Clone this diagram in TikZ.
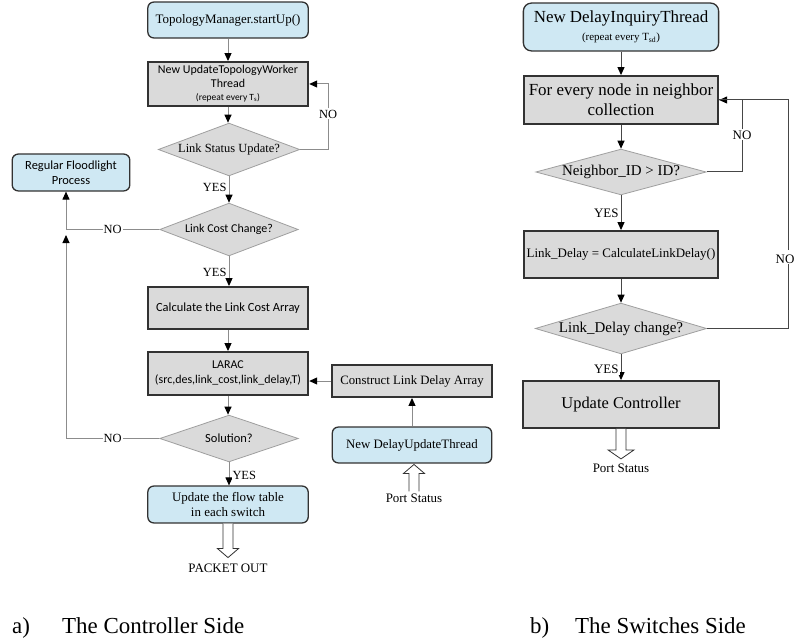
\documentclass[tikz,border=0pt]{standalone}
\usepackage{fontspec}
\setmainfont{Liberation Serif}
\newfontfamily\calfont{Carlito}
\usetikzlibrary{shapes.geometric,arrows.meta,calc}
\definecolor{boxblue}{RGB}{207,232,243}
\definecolor{boxgray}{RGB}{218,218,218}
\definecolor{edgedark}{RGB}{50,50,50}
\definecolor{lineL}{RGB}{140,140,140}
\definecolor{lineR}{RGB}{70,70,70}
\newcommand{\fsz}[2]{\fontsize{#1}{#2}\selectfont}
\begin{document}
\begin{tikzpicture}[x=1bp,y=-1bp,
  bluebox/.style={draw=edgedark, line width=1.3bp, fill=boxblue, rounded corners=6bp, align=center, inner sep=0pt},
  graybox/.style={draw=edgedark, line width=2bp, fill=boxgray, align=center, inner sep=0pt},
  decision/.style={diamond, draw=gray!75, line width=0.8bp, fill=boxgray, align=center, inner sep=0pt},
  lconn/.style={draw=lineL, line width=1bp, -{Triangle[length=8bp,width=7bp,color=black]}},
  lline/.style={draw=lineL, line width=1bp},
  rconn/.style={draw=lineR, line width=1bp, -{Triangle[length=8bp,width=7bp,color=black]}},
  rline/.style={draw=lineR, line width=1bp},
  lbl/.style={fill=white, inner sep=1bp, font=\fsz{12.5}{14}},
  txt/.style={inner sep=0pt, font=\fsz{13}{15}},
  hollow/.style={draw=edgedark, line width=0.8bp, fill=white}
]
\useasboundingbox[fill=white] (0,0) rectangle (795,644);

% ---------- left: controller side ----------
\node[bluebox, minimum width=161, minimum height=36, font=\fsz{13}{15}] (start) at (228,20) {TopologyManager.startUp()};
\node[graybox, minimum width=161, minimum height=44, font={\calfont\fsz{12}{13.5}}] (worker) at (228,84)
  {New UpdateTopologyWorker\\Thread\\{\fsz{9.5}{10}(repeat every T\textsubscript{s})}};
\node[decision, minimum width=142, minimum height=53, aspect=2.68, font=\fsz{12.5}{14}] (d1) at (229,149.5) {Link Status Update?};
\node[bluebox, minimum width=118, minimum height=37, font={\calfont\fsz{12.5}{15}}] (flood) at (71,172.5) {Regular Floodlight\\Process};
\node[decision, minimum width=139, minimum height=53, aspect=2.62, font={\calfont\fsz{12}{14}}] (d2) at (229,229.5) {Link Cost Change?};
\node[graybox, minimum width=161, minimum height=42, font={\calfont\fsz{12.5}{14}}] (calc) at (228,308) {Calculate the Link Cost Array};
\node[graybox, minimum width=161, minimum height=43, font={\calfont\fsz{12}{15}}] (larac) at (228,373.5) {LARAC\\(src,des,link\_cost,link\_delay,T)};
\node[graybox, minimum width=161, minimum height=32, font=\fsz{12.8}{15}] (construct) at (412,381) {Construct Link Delay Array};
\node[bluebox, minimum width=160, minimum height=36, font=\fsz{12.9}{15}] (dut) at (412,445) {New DelayUpdateThread};
\node[decision, minimum width=139, minimum height=47, aspect=2.95, font={\calfont\fsz{12.5}{14}}] (d3) at (229,438.5) {Solution?};
\node[bluebox, minimum width=161, minimum height=37, font=\fsz{13}{16}] (flow) at (228,504.5) {Update the flow table\\in each switch};
\node[txt] (packet) at (228,568) {PACKET OUT};
\node[txt] (port1) at (414,498) {Port Status};

\coordinate (jL) at (66,229.5);
\coordinate (jLb) at (66,438.5);
\coordinate (jLt) at (66,235);

\draw[lconn] (start) -- (start |- worker.north);
\draw[lconn] (worker.south) -- (worker.south |- d1.north);
\draw[lline] (d1.east) -| (328,114) node[lbl] (no1) {NO};
\draw[lconn] (no1.north) |- (worker.east);
\draw[lconn] (d1.south) -- node[lbl, left, xshift=-1bp, yshift=2bp] (yes1) {YES} (d2.north);
\draw[lline] (d2.west) -- node[lbl] (no2) {NO} (jL);
\draw[lconn] (jL) -- (jL |- flood.south);
\draw[lconn] (d2.south) -- node[lbl, left, xshift=-1bp, yshift=-1bp] (yes2) {YES} (d2.south |- calc.north);
\draw[lconn] (calc) -- (larac);
\draw[lconn] (construct.west) -- (larac.east |- construct.west);
\draw[lconn] (dut) -- (construct);
\draw[lconn] (larac.south) -- (larac.south |- d3.north);
\draw[lline] (d3.west) -- node[lbl] (no3) {NO} (jLb);
\draw[lconn] (jLb) -- (jLt);
\draw[lconn] (d3.south) -- node[lbl, right, xshift=2bp, yshift=-2bp] (yes3) {YES} (d3.south |- flow.north);

\draw[hollow] ($(flow.south)+(-5,0)$) -- ++(0,25) -- ++(-5.5,0) -- ++(10.5,9) -- ++(10.5,-9) -- ++(-5.5,0) -- ++(0,-25);
\draw[hollow] ($(port1.north)+(-5,-2)$) -- ++(0,-18) -- ++(-5.5,0) -- ++(10.5,-9) -- ++(10.5,9) -- ++(-5.5,0) -- ++(0,18);

% ---------- right: switches side ----------
\node[bluebox, minimum width=196, minimum height=48, rounded corners=8bp, font=\fsz{17}{18}] (inq) at (621,27)
  {New DelayInquiryThread\\{\fsz{11}{12}(repeat every T\textsubscript{sd})}};
\node[graybox, minimum width=195, minimum height=48, font=\fsz{17}{20}] (every) at (621,100) {For every node in neighbor\\collection};
\node[decision, minimum width=171, minimum height=46, aspect=3.7, font=\fsz{15}{17}] (d4) at (621,172) {Neighbor\_ID > ID?};
\node[graybox, minimum width=195, minimum height=47, font=\fsz{13}{15}] (ld) at (621,254.5) {Link\_Delay = CalculateLinkDelay()};
\node[decision, minimum width=172, minimum height=51, aspect=3.37, font=\fsz{15}{17}] (d5) at (621,328.5) {Link\_Delay change?};
\node[graybox, minimum width=196, minimum height=47, font=\fsz{16.5}{19}] (uc) at (621,404.5) {Update Controller};
\node[txt] (port2) at (621,468) {Port Status};

\draw[rconn] (inq) -- (every);
\draw[rconn] (every) -- (d4);
\draw[rline] (d4.east) -| (742,135) node[lbl, font=\fsz{13}{15}] (no4) {NO};
\draw[rconn] (no4.north) |- (every.east);
\draw[rconn] (d4.south) -- node[lbl, left, xshift=-1bp, yshift=-1bp, font=\fsz{13}{15}] (yes4) {YES} (ld.north);
\draw[rconn] (ld) -- (d5);
\draw[rline] (d5.east) -| (788,259) node[lbl, xshift=-3bp, font=\fsz{13}{15}] (no5) {NO};
\draw[rline] (788,250) |- (every.east);
\draw[rconn] (d5.south) -- node[lbl, left, xshift=-1bp, yshift=-2bp, font=\fsz{13}{15}] (yes5) {YES} (uc.north);
\draw[hollow] ($(uc.south)+(-5,0)$) -- ++(0,21) -- ++(-8,0) -- ++(13,9) -- ++(13,-9) -- ++(-8,0) -- ++(0,-21);

% ---------- captions ----------
\node[anchor=base west, inner sep=0pt, font=\fsz{23}{26}] (capa) at (12,633) {a)};
\node[anchor=base west, inner sep=0pt, font=\fsz{23}{26}] (capat) at (62,633) {The Controller Side};
\node[anchor=base west, inner sep=0pt, font=\fsz{23}{26}] (capb) at (530,633) {b)};
\node[anchor=base west, inner sep=0pt, font=\fsz{23}{26}] (capbt) at (575,633) {The Switches Side};
\end{tikzpicture}
\end{document}
